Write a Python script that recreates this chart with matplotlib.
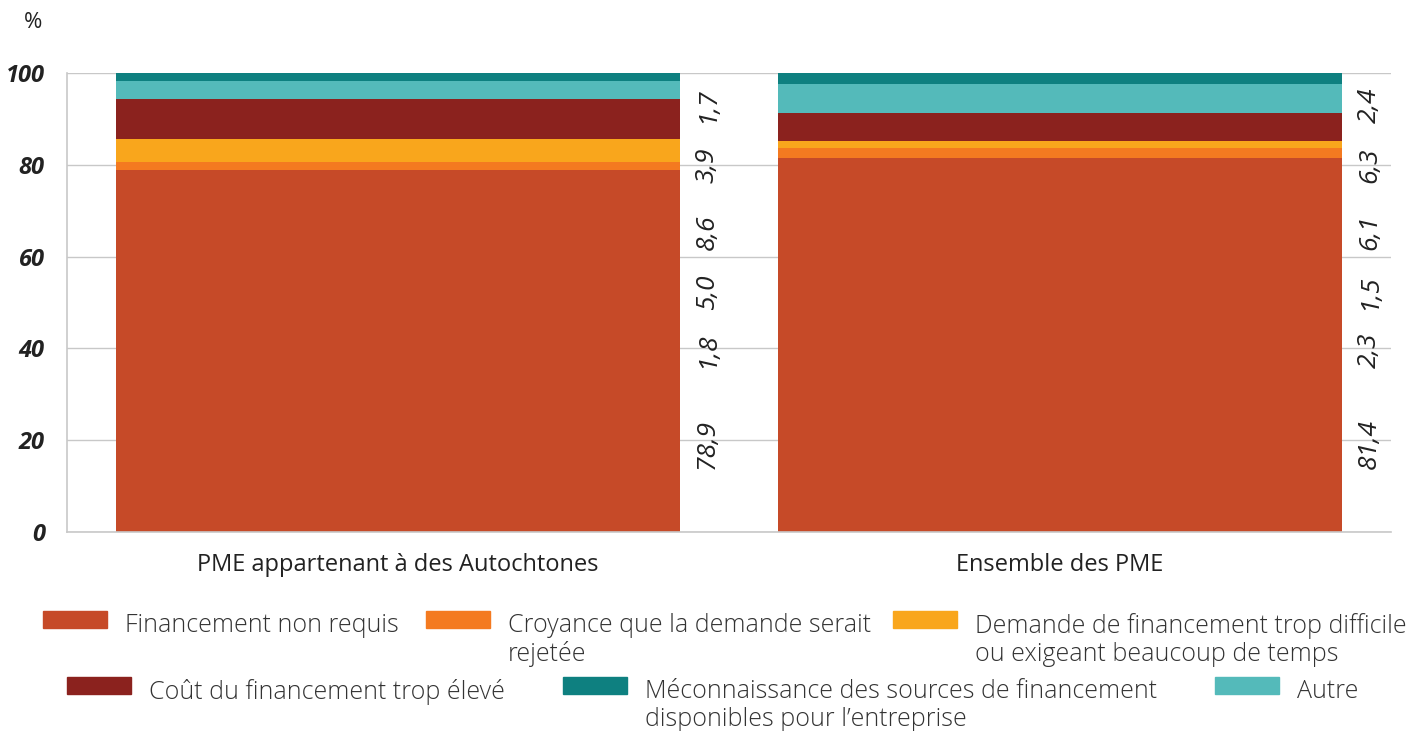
import matplotlib
matplotlib.use("Agg")
import matplotlib.pyplot as plt
from matplotlib.patches import Rectangle
from matplotlib.transforms import offset_copy
import numpy as np

plt.rcParams['font.family'] = ['Open Sans', 'DejaVu Sans']

categories = ["PME appartenant à des Autochtones", "Ensemble des PME"]
series_names = [
    "Financement non requis",
    "Croyance que la demande serait\nrejetée",
    "Demande de financement trop difficile\nou exigeant beaucoup de temps",
    "Coût du financement trop élevé",
    "Autre",
    "Méconnaissance des sources de financement\ndisponibles pour l’entreprise",
]
values = {
    "Financement non requis": [78.9, 81.4],
    "Croyance": [1.8, 2.3],
    "Demande": [5.0, 1.5],
    "Coût": [8.6, 6.1],
    "Autre": [3.9, 6.3],
    "Méconnaissance": [1.7, 2.4],
}
colors = ["#C64A28", "#F47A20", "#F9A61C", "#8B221E", "#54BABA", "#0E8080"]
yticks = [0, 20, 40, 60, 80, 100]
# fixed vertical positions (data units) of the rotated value labels
label_y = [19.2, 39.7, 52.3, 65.3, 80.0, 92.9]

fig = plt.figure(figsize=(14.14, 7.31), dpi=100)
ax = fig.add_axes([67/1414, 1 - 532/731, (1391-67)/1414, (532-73)/731])

x = np.arange(len(categories))
width = 0.853
bottom = np.zeros(len(categories))
keys = list(values.keys())
for k, c in zip(keys, colors):
    v = np.array(values[k])
    ax.bar(x, v, width, bottom=bottom, color=c, zorder=2, linewidth=0)
    bottom += v

ax.set_xlim(-0.5, 1.5)
ax.set_ylim(0, 100)
ax.set_yticks(yticks)
ax.set_yticklabels([str(t) for t in yticks], fontsize=17, fontweight='bold',
                   fontstyle='italic', color='#222222')
ax.tick_params(axis='y', length=0, pad=16)
ax.tick_params(axis='x', length=0, pad=15)
ax.set_xticks(x)
ax.set_xticklabels(categories, fontsize=17, color='#222222')
ax.grid(axis='y', color='#c8c8c8', linewidth=1, zorder=0)
for s in ['top', 'right']:
    ax.spines[s].set_visible(False)
for s in ['left', 'bottom']:
    ax.spines[s].set_color('#c8c8c8')
    ax.spines[s].set_linewidth(1.2)

# value labels
for i in range(len(categories)):
    tr = offset_copy(ax.transData, fig=fig, x=27, y=0, units='dots')
    for j, k in enumerate(keys):
        txt = f"{values[k][i]:.1f}".replace('.', ',')
        ax.text(x[i] + width/2, label_y[j], txt, transform=tr, rotation=90,
                ha='center', va='center', fontsize=19, fontstyle='italic',
                color='#222222', zorder=3)

fig.text(33/1414, 1 - 22/731, "%", fontsize=16, ha='center', va='center', color='#222222')

# legend (manual layout)
legend_order = [0, 1, 2, 3, 5, 4]
handle_x = [43, 426, 893, 67, 563, 1215]
row_y = [620, 620, 620, 686, 686, 686]
for idx, hx, ry in zip(legend_order, handle_x, row_y):
    fig.patches.append(Rectangle((hx/1414, 1 - (ry + 8)/731), 64/1414, 17/731,
                                 transform=fig.transFigure, color=colors[idx]))
    fig.text((hx + 82)/1414, 1 - (ry - 7)/731, series_names[idx], fontsize=18,
             ha='left', va='top', color='#333333', fontweight='light', linespacing=1.17)

fig.savefig("out.png", dpi=100)
